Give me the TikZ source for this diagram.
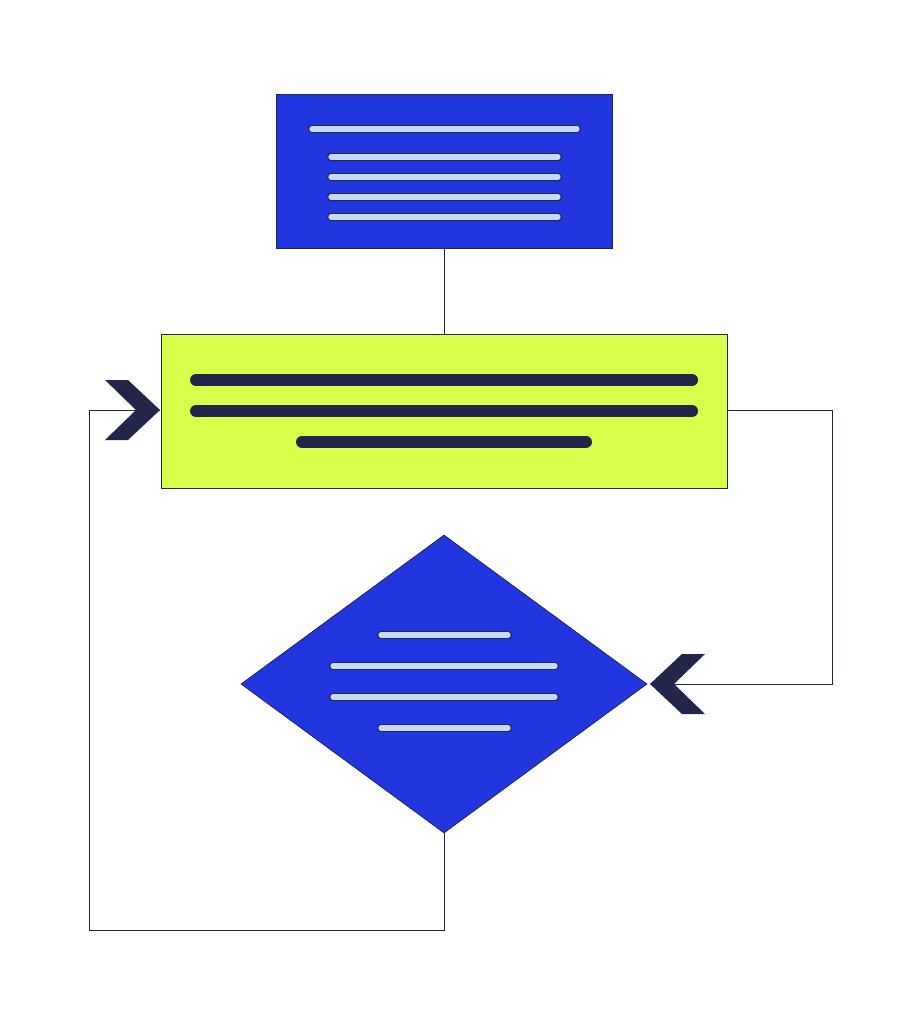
\documentclass[tikz,border=0pt]{standalone}
\usetikzlibrary{shapes.geometric}
\definecolor{bl}{HTML}{2236E0}
\definecolor{gr}{HTML}{D8FF4A}
\definecolor{dk}{HTML}{23264A}
\definecolor{lb}{HTML}{C4DAF8}
\tikzset{
 box/.style={draw=dk,line width=0.6pt,inner sep=0pt,anchor=north west},
 wire/.style={draw=dk,line width=0.7pt},
 lite/.style={line cap=round,line width=6pt,draw=dk,postaction={draw=lb,line width=4pt,line cap=round}},
 dark/.style={line cap=round,line width=9pt,draw=dk},
 chev/.style={fill=dk}
}
\begin{document}
\begin{tikzpicture}[x=0.75pt,y=-0.75pt]
\useasboundingbox[fill=white] (0,0) rectangle (921,1024);
\node[box,fill=bl,minimum width=336*0.75pt,minimum height=154*0.75pt] (top) at (276,94) {};
\node[box,fill=gr,minimum width=566*0.75pt,minimum height=154*0.75pt] (mid) at (161,334) {};
\node[draw=dk,line width=0.6pt,fill=bl,diamond,inner sep=0pt,minimum width=406*0.75pt,minimum height=298*0.75pt] (dia) at (444,684) {};
\coordinate (lt) at (160,410);
\coordinate (rt) at (650,684);
\draw[wire] (top.south) -- (mid.north);
\draw[wire] (mid.east |- 0,410) -| (832,684) -- (rt);
\draw[wire] (dia.south) -- (444,930) -| (89,410) -- (lt);
% top box lines
\draw[lite] (312,129) -- (577,129);
\foreach \y in {157,177,197,217} \draw[lite] (331,\y) -- (558,\y);
% green lines
\draw[dark] (196,380) -- (692,380);
\draw[dark] (196,411) -- (692,411);
\draw[dark] (302,442) -- (586,442);
% diamond lines
\draw[lite] (381,635) -- (508,635);
\draw[lite] (333,666) -- (555,666);
\draw[lite] (333,697) -- (555,697);
\draw[lite] (381,728) -- (508,728);
% chevrons
\fill[chev] (105,380) -- (128,380) -- (lt) -- (128,440) -- (105,440) -- (136,410) -- cycle;
\fill[chev] (705,654) -- (682,654) -- (rt) -- (682,714) -- (705,714) -- (674,684) -- cycle;
\end{tikzpicture}
\end{document}
